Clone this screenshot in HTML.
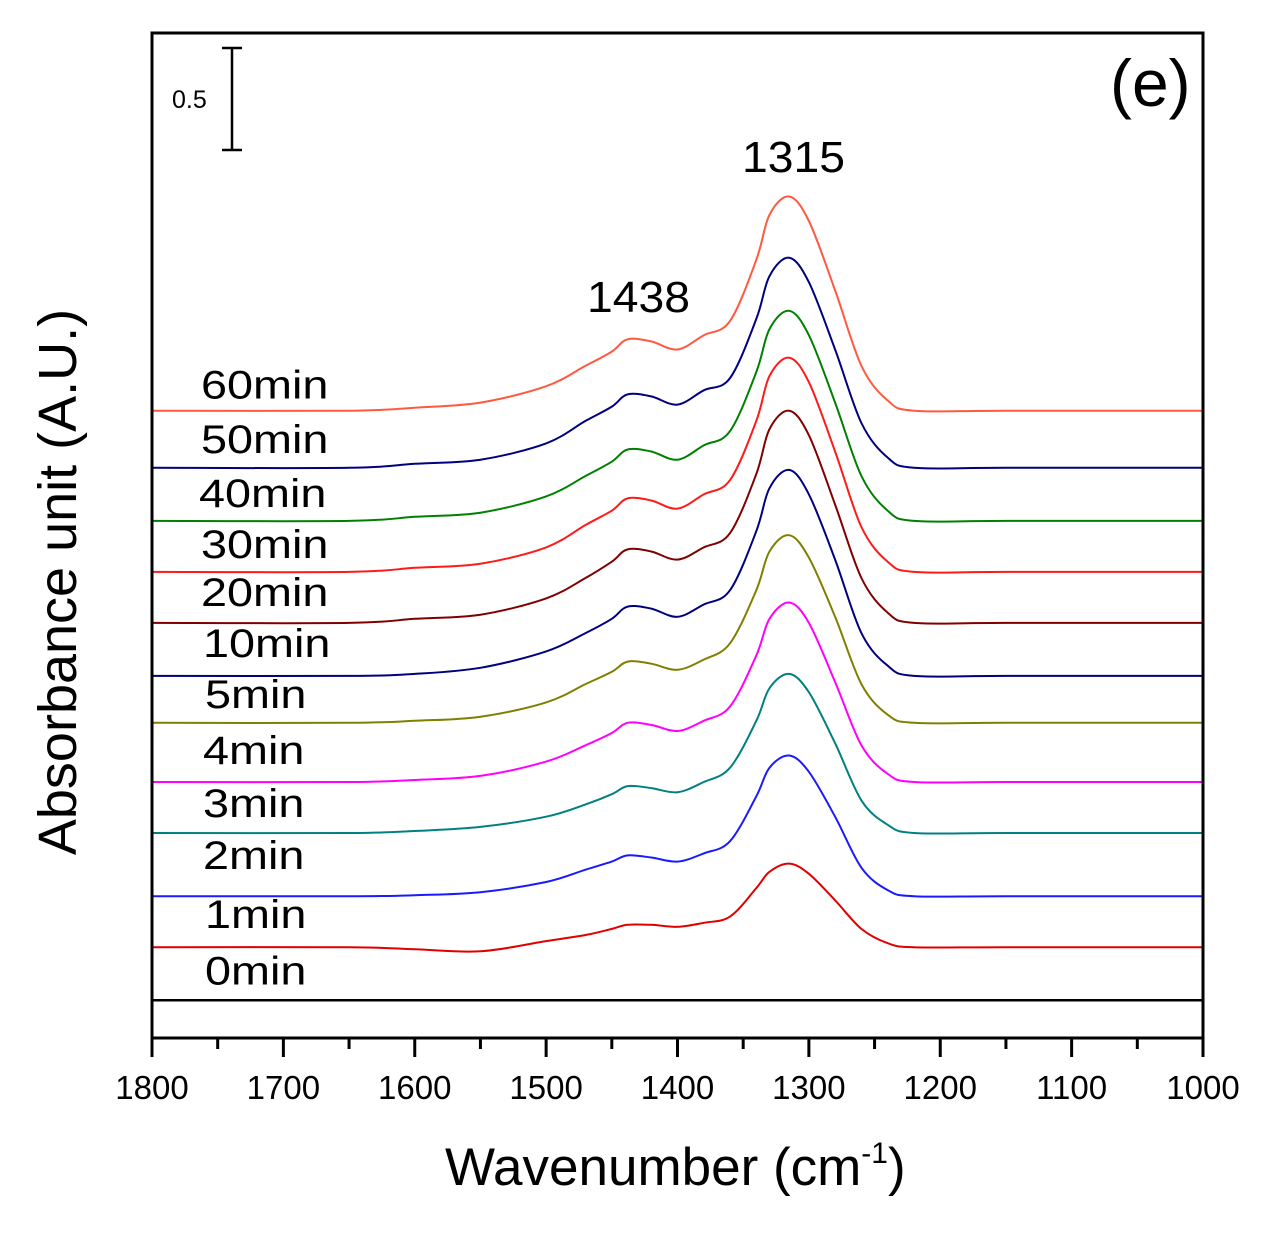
<!DOCTYPE html>
<html><head><meta charset="utf-8"><style>
html,body{margin:0;padding:0;background:#fff;}
svg{display:block;font-family:"Liberation Sans",sans-serif;}
</style></head><body>
<svg id="chart" width="1269" height="1233" viewBox="0 0 1269 1233" xmlns="http://www.w3.org/2000/svg">
<rect x="0" y="0" width="1269" height="1233" fill="#fff"/>
<g id="series"></g>
<g id="axes"></g>
<rect x="152" y="33" width="1051" height="1005" fill="none" stroke="#000" stroke-width="3"/>
<g stroke="#000" stroke-width="2.5">
<line x1="232" y1="48" x2="232" y2="150"/><line x1="222" y1="48" x2="242" y2="48"/><line x1="222" y1="150" x2="242" y2="150"/>
</g>
<text x="172" y="108" font-size="25">0.5</text>
<text x="1110" y="106" font-size="66">(e)</text>
<text x="742" y="172" font-size="44" textLength="103" lengthAdjust="spacingAndGlyphs">1315</text>
<text x="587" y="312" font-size="44" textLength="103" lengthAdjust="spacingAndGlyphs">1438</text>
<text x="445" y="1185" font-size="53">Wavenumber (cm<tspan font-size="30" dy="-22">-1</tspan><tspan dy="22">)</tspan></text>
<text transform="translate(76,582) rotate(-90)" text-anchor="middle" font-size="54">Absorbance unit (A.U.)</text>
</svg>
<script>
const wavenumbers=[1800,1650,1600,1550,1500,1470,1450,1438,1420,1400,1380,1360,1340,1330,1315,1300,1280,1260,1240,1220,1150,1000];
const seriesNames=["0min","1min","2min","3min","4min","5min","10min","20min","30min","40min","50min","60min"];
const baselines=[0.18,0.44,0.69,1.00,1.25,1.54,1.77,2.03,2.28,2.53,2.79,3.07];
const s0=[0,0,0,0,0,0,0,0,0,0,0,0,0,0,0,0,0,0,0,0,0,0];
const s1=[0,0,-0.01,-0.02,0.03,0.06,0.09,0.11,0.11,0.1,0.12,0.15,0.29,0.37,0.41,0.36,0.23,0.09,0.02,0,0,0];
const s2=[0,0,0.005,0.02,0.07,0.13,0.17,0.2,0.19,0.17,0.21,0.27,0.49,0.63,0.69,0.61,0.39,0.14,0.03,0,0,0];
const s3=[0,0,0.01,0.03,0.08,0.14,0.19,0.23,0.22,0.2,0.25,0.32,0.55,0.71,0.78,0.69,0.44,0.16,0.04,0,0,0];
const s4=[0,0,0.01,0.03,0.1,0.18,0.24,0.29,0.28,0.25,0.3,0.37,0.62,0.8,0.88,0.78,0.49,0.18,0.04,0,0,0];
const s5=[0,0,0.01,0.03,0.1,0.19,0.25,0.3,0.29,0.26,0.31,0.39,0.65,0.84,0.92,0.81,0.52,0.19,0.04,0,0,0];
const s10=[0,0,0.01,0.04,0.12,0.21,0.28,0.34,0.33,0.29,0.35,0.42,0.71,0.92,1.01,0.89,0.57,0.21,0.05,0,0,0];
const s20=[0,0,0.02,0.04,0.12,0.22,0.3,0.36,0.35,0.31,0.37,0.44,0.73,0.95,1.04,0.92,0.58,0.22,0.05,0,0,0];
const s30=[0,0,0.02,0.04,0.12,0.23,0.3,0.36,0.35,0.31,0.38,0.45,0.74,0.96,1.05,0.93,0.59,0.22,0.05,0,0,0];
const s40=[0,0,0.02,0.04,0.12,0.22,0.29,0.35,0.34,0.3,0.37,0.44,0.73,0.94,1.03,0.91,0.58,0.22,0.05,0,0,0];
const s50=[0,0,0.02,0.04,0.12,0.23,0.3,0.36,0.35,0.31,0.38,0.44,0.73,0.94,1.03,0.91,0.58,0.22,0.05,0,0,0];
const s60=[0,0,0.015,0.04,0.12,0.22,0.29,0.35,0.34,0.3,0.37,0.44,0.74,0.96,1.05,0.93,0.59,0.22,0.05,0,0,0];
const seriesValues=[s0,s1,s2,s3,s4,s5,s10,s20,s30,s40,s50,s60];
const colors=["#000000","#e00000","#1a1aff","#008080","#ff00ff","#808000","#000080","#800000","#ff1a1a","#008000","#000080","#ff5a40"];
const labelX=[205,205,203,203,203,205,203,201,201,199,201,201];
const labelOffsets=[-16,-19,-27,-16,-18,-15,-19,-17,-14,-14,-15,-12];
const xTicks=[1800,1700,1600,1500,1400,1300,1200,1100,1000];
const xMinor=[1750,1650,1550,1450,1350,1250,1150,1050];

const X0=152,X1=1203,Y0=1037;
const xScale=w=>X0+(1800-w)*(X1-X0)/800;
const yScale=v=>Y0-v*204;
const NS="http://www.w3.org/2000/svg";
const sg=document.getElementById('series');
const ax=document.getElementById('axes');
const LSCALE=1.17;

function smoothPath(pts){
  let d="M"+pts[0][0].toFixed(1)+","+pts[0][1].toFixed(1);
  for(let i=0;i<pts.length-1;i++){
    const p0=pts[Math.max(0,i-1)],p1=pts[i],p2=pts[i+1],p3=pts[Math.min(pts.length-1,i+2)];
    const c1=[p1[0]+(p2[0]-p0[0])/6,p1[1]+(p2[1]-p0[1])/6];
    const c2=[p2[0]-(p3[0]-p1[0])/6,p2[1]-(p3[1]-p1[1])/6];
    d+=" C"+c1[0].toFixed(1)+","+c1[1].toFixed(1)+" "+c2[0].toFixed(1)+","+c2[1].toFixed(1)+" "+p2[0].toFixed(1)+","+p2[1].toFixed(1);
  }
  return d;
}

seriesNames.forEach((name,i)=>{
  const pts=wavenumbers.map((w,j)=>[xScale(w),yScale(baselines[i]+seriesValues[i][j])]);
  const p=document.createElementNS(NS,'path');
  p.setAttribute('d',smoothPath(pts));
  p.setAttribute('fill','none');
  p.setAttribute('stroke',colors[i]);
  p.setAttribute('stroke-width',i===0?'2.5':'2');
  
  
  sg.appendChild(p);
  const t=document.createElementNS(NS,'text');
  t.setAttribute('x',(labelX[i]/LSCALE).toFixed(1));
  t.setAttribute('y',yScale(baselines[i])+labelOffsets[i]);
  t.setAttribute('transform','scale('+LSCALE+',1)');
  t.setAttribute('font-size','40');
  t.textContent=name;
  
  
  sg.appendChild(t);
});

xTicks.forEach(w=>{
  const x=xScale(w);
  const l=document.createElementNS(NS,'line');
  l.setAttribute('x1',x);l.setAttribute('x2',x);l.setAttribute('y1',Y0);l.setAttribute('y2',Y0+20);
  l.setAttribute('stroke','#000');l.setAttribute('stroke-width','3');
  
  
  ax.appendChild(l);
  const t=document.createElementNS(NS,'text');
  t.setAttribute('x',x);t.setAttribute('y',1099);
  t.setAttribute('text-anchor','middle');t.setAttribute('font-size','33');
  t.textContent=w;
  
  
  ax.appendChild(t);
});
xMinor.forEach(w=>{
  const x=xScale(w);
  const l=document.createElementNS(NS,'line');
  l.setAttribute('x1',x);l.setAttribute('x2',x);l.setAttribute('y1',Y0);l.setAttribute('y2',Y0+12);
  l.setAttribute('stroke','#000');l.setAttribute('stroke-width','3');
  
  
  ax.appendChild(l);
});
</script>
</body></html>
